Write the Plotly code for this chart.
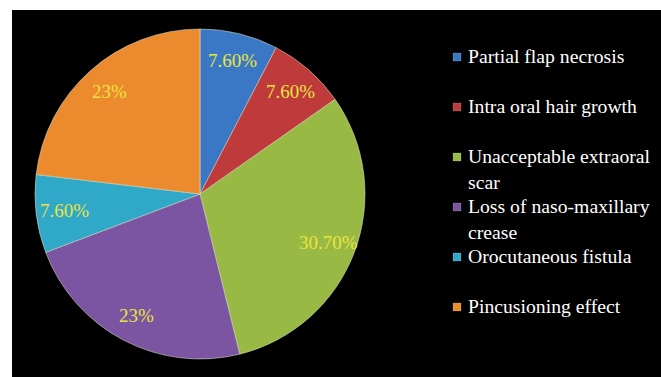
import math
import plotly.graph_objects as go

categories = ["Partial flap necrosis", "Intra oral hair growth", "Unacceptable extraoral<br>scar",
              "Loss of naso-maxillary<br>crease", "Orocutaneous fistula", "Pincusioning effect"]
values = [7.6, 7.6, 30.7, 23, 7.6, 23]
value_text = ["7.60%", "7.60%", "30.70%", "23%", "7.60%", "23%"]
colors = ["#3A78C6", "#BF3A3B", "#98BA45", "#7C55A2", "#30A8C8", "#EC8A2E"]

W, H = 661, 377
cx, cy, r = 200, 194, 165
FONT = "Liberation Serif, Times New Roman, serif"

fig = go.Figure(go.Pie(
    labels=categories,
    values=values,
    text=value_text,
    textinfo="none",
    sort=False,
    direction="clockwise",
    rotation=0,
    marker=dict(colors=colors, line=dict(color="rgba(235,235,210,0.5)", width=1)),
    domain=dict(x=[(cx - r) / W, (cx + r) / W], y=[(H - cy - r) / H, (H - cy + r) / H]),
    hoverinfo="label+text",
    showlegend=False,
))

annotations = []
shapes = [dict(type="rect", xref="paper", yref="paper", x0=12 / W, x1=1, y0=0, y1=1 - 10 / H,
               fillcolor="black", line=dict(width=0), layer="below")]

# data labels at the slice mid-angles ("inside end" style)
total = sum(values)
cum = 0.0
for v, t in zip(values, value_text):
    mid = (cum + v / 2) / total * 2 * math.pi
    cum += v
    px = cx + 0.83 * r * math.sin(mid)
    py = cy - 0.83 * r * math.cos(mid)
    annotations.append(dict(x=px / W, y=1 - py / H, xref="paper", yref="paper", text=t,
                            showarrow=False, xanchor="center", yanchor="middle",
                            font=dict(family=FONT, size=19, color="#EAE43E")))

# legend
leg_x, sw_x, y0, step = 467, 453, 57, 50
for i, (c, col) in enumerate(zip(categories, colors)):
    yc = y0 + step * i
    annotations.append(dict(x=leg_x / W, y=1 - (yc - 13) / H, xref="paper", yref="paper", text=c,
                            showarrow=False, xanchor="left", yanchor="top", align="left",
                            borderpad=0,
                            font=dict(family=FONT, size=19.7, color="white")))
    shapes.append(dict(type="rect", xref="paper", yref="paper",
                       x0=sw_x / W, x1=(sw_x + 8) / W, y0=1 - (yc + 4) / H, y1=1 - (yc - 4) / H,
                       fillcolor=col, line=dict(width=0.5, color="rgba(255,255,255,0.3)")))

fig.update_layout(
    width=W, height=H,
    margin=dict(l=0, r=0, t=0, b=0),
    paper_bgcolor="white",
    showlegend=False,
    shapes=shapes,
    annotations=annotations,
)

fig.write_html("out.html")
